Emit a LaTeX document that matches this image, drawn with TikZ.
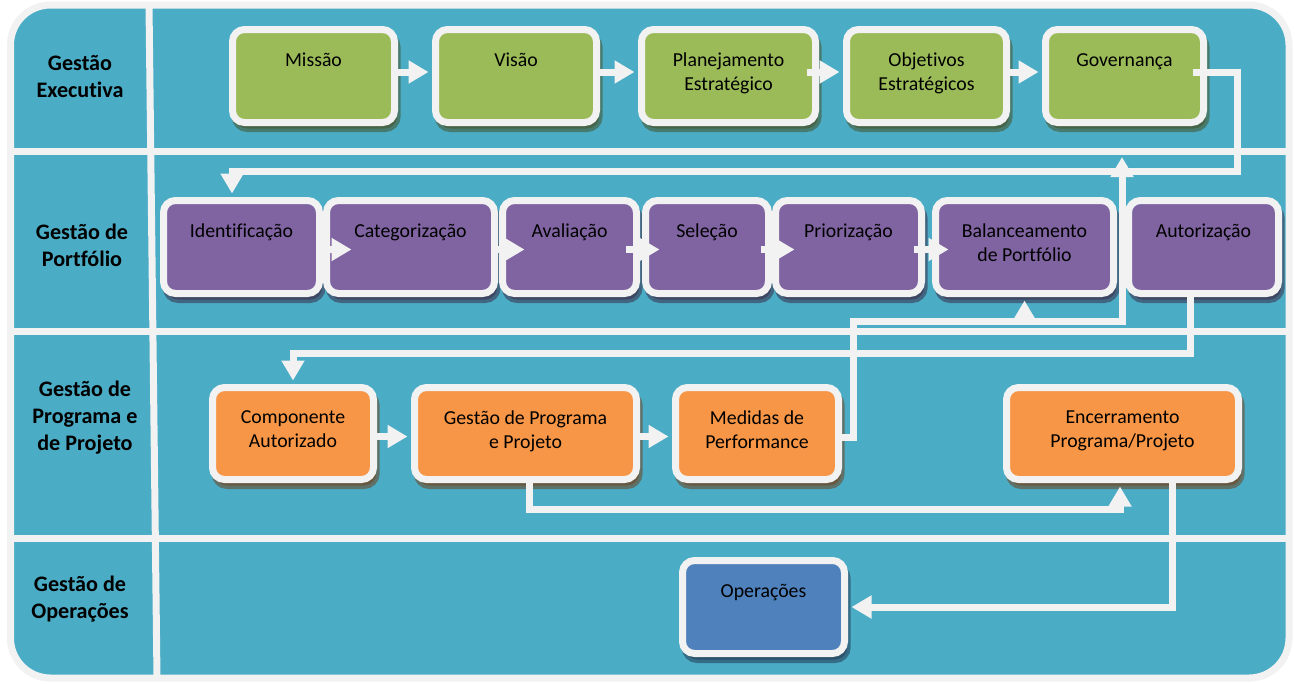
\documentclass[tikz,border=0pt]{standalone}
\usepackage{fontspec}
\setmainfont{Carlito}[Ligatures={NoCommon,TeX}]
\usetikzlibrary{arrows.meta,calc}

\definecolor{lanefill}{HTML}{4BACC6}
\definecolor{rulecol}{HTML}{F2F2F2}
\definecolor{execgreen}{HTML}{9BBB59}
\definecolor{portpurple}{HTML}{8064A2}
\definecolor{progorange}{HTML}{F79646}
\definecolor{opblue}{HTML}{4F81BD}

\tikzset{
  stagebox/.style={rectangle, rounded corners=9pt, draw=rulecol, line width=5.25pt,
    fill=#1, minimum height=69.75pt, inner sep=0pt,
    preaction={draw=#1!45!black, fill=#1!45!black, opacity=0.55,
      transform canvas={shift={(2pt,-4.5pt)}}}},
  boxtext/.style={anchor=north, inner sep=0pt, yshift=-17.4pt, align=center,
    font=\fontsize{14.85}{18}\selectfont, text=black,
    execute at begin node=\strut},
  boxtexttwo/.style={boxtext, yshift=-2.6pt},
  lanetext/.style={anchor=north, inner sep=0pt, align=center,
    font=\bfseries\fontsize{16.6}{20.25}\selectfont, text=black,
    execute at begin node=\strut},
  rule/.style={draw=rulecol, line width=5.25pt},
  flow/.style={draw=rulecol, line width=5.25pt, line join=miter,
    -{Triangle[width=16.5pt,length=15pt]}},
}

\begin{document}
\begin{tikzpicture}[x=0.75pt,y=-0.75pt]
\useasboundingbox (0,0) rectangle (1295,683);
\fill[white] (0,0) rectangle (1295,683);

% outer frame and swimlane rules
\draw[rule, fill=lanefill, rounded corners=30pt,
  preaction={draw=gray!55, transform canvas={shift={(1.5pt,-1.5pt)}}}]
  (10.5,5) rectangle (1289,678);
\draw[rule] (149,5) -- (157,678);
\draw[rule] (10.5,151) -- (1289,151);
\draw[rule] (10.5,331) -- (1289,331);
\draw[rule] (10.5,538) -- (1289,538);

% lane titles
\node[lanetext] (lane1) at (80,55.1) {Gestão\\Executiva};
\node[lanetext] (lane2) at (82,224.1) {Gestão de\\Portfólio};
\node[lanetext] (lane3) at (85,381.1) {Gestão de\\Programa e\\de Projeto};
\node[lanetext] (lane4) at (80,576.1) {Gestão de\\Operações};

% executive management
\node[stagebox=execgreen, minimum width=121.5pt, label={[boxtext]north:Missão}] (mis) at (313.5,76) {};
\node[stagebox=execgreen, minimum width=120.75pt, label={[boxtext]north:Visão}] (vis) at (516,76) {};
\node[stagebox=execgreen, minimum width=130.5pt, label={[boxtexttwo]north:{Planejamento\\Estratégico}}] (pla) at (728.5,76) {};
\node[stagebox=execgreen, minimum width=120pt, label={[boxtexttwo]north:{Objetivos\\Estratégicos}}] (obj) at (926.5,76) {};
\node[stagebox=execgreen, minimum width=118.5pt, label={[boxtext]north:Governança}] (gov) at (1124.5,76) {};

% portfolio management
\node[stagebox=portpurple, minimum width=117pt, label={[boxtext]north:Identificação}] (ide) at (241.5,247) {};
\node[stagebox=portpurple, minimum width=126pt, label={[boxtext]north:Categorização}] (cat) at (410.5,247) {};
\node[stagebox=portpurple, minimum width=100.5pt, label={[boxtext]north:Avaliação}] (ava) at (569.5,247) {};
\node[stagebox=portpurple, minimum width=92.25pt, label={[boxtext]north:Seleção}] (sel) at (707,247) {};
\node[stagebox=portpurple, minimum width=109.5pt, label={[boxtext]north:Priorização}] (pri) at (848.5,247) {};
\node[stagebox=portpurple, minimum width=133.5pt, label={[boxtexttwo]north:{Balanceamento\\de Portfólio}}] (bal) at (1024.5,247) {};
\node[stagebox=portpurple, minimum width=112.5pt, label={[boxtext]north:Autorização}] (aut) at (1203.5,247) {};

% program and project management
\node[stagebox=progorange, minimum width=120.75pt, minimum height=69pt, label={[boxtexttwo]north:{Componente\\Autorizado}}] (com) at (293,433.5) {};
\node[stagebox=progorange, minimum width=166.5pt, minimum height=69pt, label={[boxtexttwo]north:{Gestão de Programa\\e Projeto}}] (gpp) at (525.5,433.5) {};
\node[stagebox=progorange, minimum width=122.25pt, minimum height=69pt, label={[boxtexttwo]north:{Medidas de\\Performance}}] (med) at (757,433.5) {};
\node[stagebox=progorange, minimum width=174pt, minimum height=69pt, label={[boxtexttwo]north:{Encerramento\\Programa/Projeto}}] (enc) at (1122.5,433.5) {};

% operations management
\node[stagebox=opblue, minimum width=121.5pt, label={[boxtext]north:Operações}] (ope) at (763.5,607) {};

% executive chain
\draw[flow] ($(mis.east)+(0,-4)$) -- ($(vis.west)+(-3.5,-4)$);
\draw[flow] ($(vis.east)+(0,-4)$) -- ($(pla.west)+(-3.5,-4)$);
\draw[flow] ($(pla.east)+(-12.5,-4)$) -- ($(obj.west)+(-3.5,-4)$);
\draw[flow] ($(obj.east)+(0,-4)$) -- ($(gov.west)+(-3.5,-4)$);

% governance feeds the portfolio
\coordinate (govturn) at (1237,171);
\draw[flow] ($(gov.east)+(-14,-4)$) -| (govturn) -| ($(ide.north)+(-9.5,-3.5)$);

% portfolio chain
\draw[flow] ($(ide.east)+(-6.5,2.5)$) -- ($(cat.west)+(28.5,2.5)$);
\draw[flow] ($(cat.east)+(-7.5,2.5)$) -- ($(ava.west)+(25.5,2.5)$);
\draw[flow] ($(ava.east)+(-14.5,2.5)$) -- ($(sel.west)+(17.5,2.5)$);
\draw[flow] ($(sel.east)+(-11.5,2.5)$) -- ($(pri.west)+(22.5,2.5)$);
\draw[flow] ($(pri.east)+(-11.5,2.5)$) -- ($(bal.west)+(16.5,2.5)$);

% performance measures report back
\coordinate (medturn) at (853.5,321);
\coordinate (exectop) at (1122,157);
\draw[flow] ($(med.east)+(0,4)$) -| (medturn) -| (exectop);
\draw[flow] (bal.south |- medturn) -- ($(bal.south)+(0,3.5)$);

% authorization starts components
\coordinate (autturn) at (1190,353);
\draw[flow] (aut.south -| autturn) -- (autturn) -| ($(com.north)+(0,-3.5)$);

% program chain
\draw[flow] ($(com.east)+(0,3)$) -- ($(gpp.west)+(-3.5,3)$);
\draw[flow] ($(gpp.east)+(0,3)$) -- ($(med.west)+(-3.5,3)$);

\coordinate (gppturn) at (1120,509.5);
\draw[flow] ($(gpp.south)+(3.5,0)$) |- (gppturn) -- ($(gppturn |- enc.south)+(0,3.5)$);

% closing hands over to operations
\draw[flow] ($(enc.south)+(49.5,0)$) |- ($(ope.east)+(3.5,0)$);
\end{tikzpicture}
\end{document}
